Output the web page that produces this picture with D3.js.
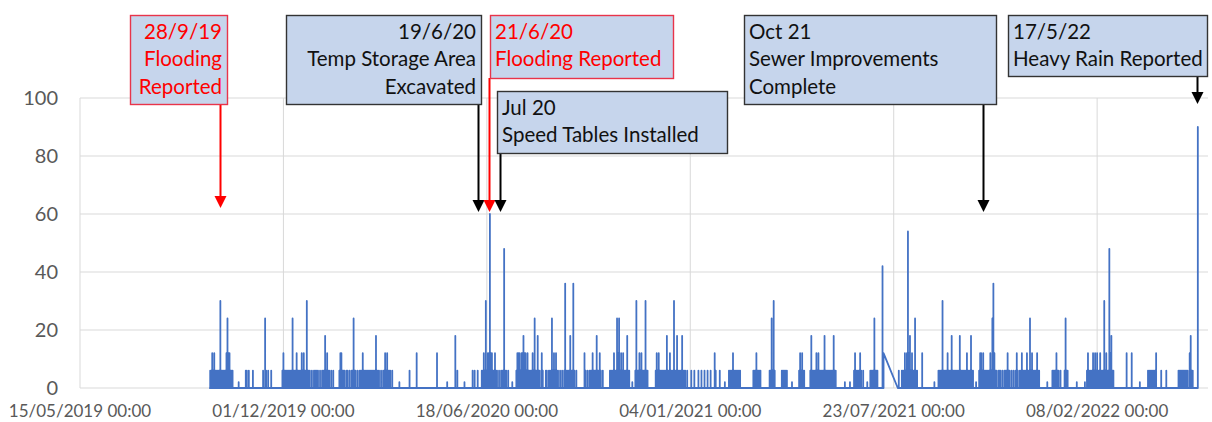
<!DOCTYPE html>
<html>
<head>
<meta charset="utf-8">
<script src="https://cdn.jsdelivr.net/npm/d3@7"></script>
<style>
  body { margin: 0; background: #fff; }
  svg { display: block; font-family: Lato, "Noto Sans", sans-serif; }
</style>
</head>
<body>
<svg id="chart"></svg>
<script>
// axis range and ticks
const startDate = new Date(2019, 4, 15);
const endDate = new Date(2022, 4, 28);
const yTicks = [0, 20, 40, 60, 80, 100];
const xTickDates = ["2019-05-15", "2019-12-01", "2020-06-18", "2021-01-04", "2021-07-23", "2022-02-08"];

// readings: [days since 15/05/2019, value]  ("ramp" = line slides to next reading)
const readings = [
  [127, 0], [128, 6], [129, 6], [130, 12], [131, 6], [132, 12], [133, 6], [134, 6], [135, 6], [136, 6],
  [137, 6], [138, 30], [139, 6], [140, 6], [141, 6], [142, 6], [143, 6], [144, 12], [145, 24], [146, 12],
  [147, 12], [148, 6], [149, 6], [150, 6], [156, 2], [163, 6], [164, 6], [166, 6], [170, 6], [180, 6],
  [182, 24], [183, 6], [185, 6], [188, 6],
  [199, 6], [200, 12], [201, 6], [202, 6], [203, 6], [204, 6], [205, 6], [206, 6], [207, 6], [208, 6],
  [209, 24], [210, 6], [211, 6], [212, 6], [213, 12], [214, 6], [215, 6], [216, 6], [217, 6], [218, 12],
  [219, 6], [220, 12], [221, 6], [222, 6], [223, 30], [224, 6], [225, 6], [226, 6], [228, 6], [230, 6],
  [231, 6], [232, 6], [233, 6], [234, 6], [236, 6], [238, 6], [239, 6], [240, 6], [241, 18], [242, 6],
  [243, 12], [244, 6], [245, 6], [247, 6], [249, 6],
  [255, 6], [256, 12], [257, 12], [258, 6], [259, 6], [260, 6], [262, 6], [263, 6], [265, 6], [267, 6],
  [268, 6], [269, 24], [270, 6], [271, 6], [273, 6], [275, 6], [276, 6], [277, 6], [278, 12], [279, 6],
  [280, 6], [281, 6], [282, 6], [283, 6], [284, 6], [285, 6], [286, 6], [287, 6], [288, 6], [289, 6],
  [290, 6], [291, 18], [292, 6], [293, 6], [294, 6], [296, 6], [298, 6], [299, 6], [300, 12], [301, 6],
  [302, 12], [303, 6], [304, 6], [305, 6], [307, 6],
  [314, 2], [324, 6], [331, 12], [351, 12], [361, 2], [369, 18], [371, 6], [378, 2], [386, 6], [388, 6],
  [391, 6], [395, 6], [396, 6], [397, 12], [398, 6], [399, 30], [400, 6], [401, 12], [402, 12], [403, 60],
  [404, 12], [405, 12], [406, 6], [407, 6], [408, 12], [409, 6], [410, 6], [412, 6], [414, 6], [415, 6],
  [416, 6], [417, 48], [418, 6], [419, 6], [421, 6], [425, 2],
  [429, 6], [430, 12], [431, 12], [432, 12], [433, 6], [434, 12], [435, 12], [436, 18], [437, 12], [438, 12],
  [439, 6], [440, 12], [441, 6], [442, 6], [443, 6], [444, 6], [445, 12], [446, 6], [447, 24], [448, 6],
  [449, 6], [450, 18], [451, 6], [452, 6], [454, 12], [455, 6], [458, 6], [459, 6], [461, 6], [462, 6],
  [463, 6], [464, 24], [465, 6], [466, 12], [467, 6], [468, 12], [469, 6], [470, 6], [472, 6], [474, 6],
  [476, 6], [477, 36], [478, 6], [479, 6], [480, 6], [481, 6], [482, 18], [483, 6], [484, 6], [485, 36],
  [486, 6], [488, 6], [496, 12], [497, 6], [499, 6], [501, 6], [502, 6], [503, 6], [504, 12], [505, 6],
  [506, 6], [507, 6], [508, 18], [509, 6], [510, 6], [511, 12], [512, 6], [514, 6],
  [521, 6], [522, 6], [523, 6], [524, 6], [525, 12], [526, 6], [527, 6], [528, 24], [529, 12], [530, 24],
  [531, 6], [532, 12], [533, 6], [534, 12], [535, 6], [536, 6], [537, 6], [538, 18], [539, 6], [540, 6],
  [543, 2], [546, 6], [547, 30], [548, 6], [549, 6], [550, 12], [551, 6], [552, 12], [553, 6], [554, 6],
  [555, 6], [556, 30], [557, 6], [558, 6], [566, 6], [567, 12], [568, 6], [569, 12], [570, 6], [571, 6],
  [572, 6], [573, 6], [574, 6], [575, 6], [576, 6], [577, 18], [578, 6], [579, 6], [580, 12], [581, 6],
  [582, 6], [583, 6], [584, 30], [585, 6], [586, 6], [587, 18], [588, 6], [589, 6], [590, 6], [591, 6],
  [592, 18], [593, 6], [594, 6], [595, 6], [597, 6], [601, 6], [604, 6], [608, 6], [611, 6], [614, 6],
  [617, 6], [620, 6], [624, 12], [625, 6], [629, 6], [634, 2],
  [638, 6], [639, 6], [640, 6], [641, 6], [642, 12], [643, 6], [644, 6], [645, 6], [646, 6], [647, 6],
  [648, 6], [649, 6], [662, 6], [663, 6], [664, 6], [665, 12], [666, 6], [667, 6], [668, 6], [669, 6],
  [678, 6], [679, 6], [680, 24], [681, 6], [682, 30], [683, 6], [690, 6], [691, 6], [692, 6], [693, 6],
  [694, 6], [695, 6], [700, 2], [707, 6], [708, 12], [709, 6], [710, 12], [711, 6], [712, 6],
  [718, 6], [719, 18], [720, 6], [721, 6], [722, 6], [723, 6], [724, 12], [725, 6], [726, 12], [727, 6],
  [728, 6], [729, 6], [730, 6], [731, 6], [732, 18], [733, 6], [734, 6], [735, 6], [736, 6], [737, 6],
  [738, 6], [739, 6], [740, 6], [741, 18], [742, 6], [743, 6], [752, 2], [757, 2],
  [761, 6], [762, 12], [763, 6], [764, 6], [765, 6], [766, 6], [767, 12], [768, 6], [770, 6], [774, 2],
  [777, 6], [778, 6], [779, 6], [780, 6], [781, 24], [782, 6], [783, 6], [784, 6], [789, 42],
  [790, 12, "ramp"], [804, 0],
  [805, 6], [808, 6], [809, 6], [810, 6], [811, 12], [812, 6], [813, 12], [814, 54], [815, 12], [816, 18],
  [817, 6], [818, 12], [819, 6], [820, 6], [821, 24], [822, 6], [823, 6], [828, 12], [840, 2],
  [844, 6], [845, 6], [846, 6], [847, 6], [848, 30], [849, 6], [850, 6], [851, 6], [852, 6], [853, 12],
  [854, 6], [855, 6], [856, 6], [857, 18], [858, 6], [859, 6], [860, 6], [861, 6], [862, 6], [863, 6],
  [864, 6], [865, 18], [866, 6], [867, 6], [868, 6], [869, 6], [870, 6], [871, 6], [872, 12], [873, 6],
  [874, 6], [875, 6], [876, 18], [877, 6], [878, 6], [881, 2],
  [884, 6], [885, 12], [886, 12], [887, 6], [888, 12], [889, 6], [890, 6], [891, 6], [892, 6], [893, 6],
  [894, 6], [895, 12], [896, 6], [897, 24], [898, 36], [899, 12], [900, 6], [901, 6], [903, 6], [904, 6],
  [905, 6], [907, 6], [909, 6], [910, 6], [911, 6], [912, 12], [913, 6], [914, 6], [916, 6], [918, 6],
  [920, 6], [921, 12], [922, 6], [924, 6], [925, 6], [926, 12], [927, 6], [928, 6], [929, 6], [930, 6],
  [931, 12], [932, 6], [933, 6], [934, 24], [935, 6], [936, 12], [937, 6], [938, 6], [939, 6], [940, 6],
  [941, 12], [942, 6], [943, 6], [951, 2], [956, 6], [957, 6], [958, 6], [959, 6], [960, 12], [961, 6],
  [962, 6], [964, 6], [968, 6], [969, 24], [970, 6], [971, 6], [980, 2], [988, 2],
  [990, 6], [991, 12], [992, 6], [993, 6], [994, 6], [995, 6], [996, 12], [997, 6], [998, 12], [999, 6],
  [1000, 12], [1001, 6], [1002, 6], [1003, 12], [1004, 6], [1005, 6], [1006, 6], [1007, 30], [1008, 6],
  [1009, 12], [1010, 6], [1011, 6], [1012, 48], [1013, 12], [1014, 18], [1015, 6], [1016, 6],
  [1029, 12], [1034, 12], [1042, 2],
  [1050, 6], [1051, 6], [1052, 6], [1053, 6], [1054, 6], [1055, 6], [1056, 6], [1057, 6], [1058, 12],
  [1063, 6], [1068, 6], [1080, 6], [1081, 6], [1082, 6], [1083, 6], [1084, 6], [1085, 6], [1086, 6],
  [1087, 6], [1088, 6], [1089, 6], [1091, 12], [1092, 18], [1093, 6], [1094, 6], [1099, 90]
];

// annotations
const noteLines = [
  ["28/9/19", "Flooding", "Reported"],
  ["19/6/20", "Temp Storage Area", "Excavated"],
  ["21/6/20", "Flooding Reported"],
  ["Jul 20", "Speed Tables Installed"],
  ["Oct 21", "Sewer Improvements", "Complete"],
  ["17/5/22", "Heavy Rain Reported"]
];
const noteDates = ["2019-09-29", "2020-06-19", "2020-06-21", "2020-07-01", "2021-10-19", "2022-05-17"];
const noteKinds = ["flood", "works", "flood", "works", "works", "rain"];

// layout of the boxes: x, y, w, h, text anchor, arrow tip y, arrow dx
const boxLayout = [
  [130, 15, 97, 89, "end", 208, 1],
  [286, 15, 195, 89, "end", 212, -10],
  [490, 15, 183, 63, "start", 212, -1],
  [497, 91, 230, 62, "start", 212, 0],
  [744, 15, 252, 89, "start", 212, 0],
  [1008, 15, 199, 61, "start", 104, 0]
];

const width = 1212, height = 422;
const margin = { left: 80, right: 4, top: 98, bottom: 34 };

const svg = d3.select("#chart").attr("width", width).attr("height", height);

const parse = d3.timeParse("%Y-%m-%d");
const x = d3.scaleTime().domain([startDate, endDate]).range([margin.left, width - margin.right]);
const y = d3.scaleLinear().domain([0, 100]).range([height - margin.bottom, margin.top]);

const gridColor = "#d9d9d9";
const labelColor = "#595959";

// horizontal grid
svg.append("g")
  .selectAll("line")
  .data(yTicks)
  .join("line")
  .attr("x1", x.range()[0]).attr("x2", x.range()[1])
  .attr("y1", d => y(d)).attr("y2", d => y(d))
  .attr("stroke", gridColor).attr("stroke-width", 1);

// vertical grid
const xTicks = xTickDates.map(parse);
svg.append("g")
  .selectAll("line")
  .data(xTicks)
  .join("line")
  .attr("x1", d => x(d)).attr("x2", d => x(d))
  .attr("y1", y(0)).attr("y2", y(100))
  .attr("stroke", gridColor).attr("stroke-width", 1);

// y labels
svg.append("g")
  .selectAll("text")
  .data(yTicks)
  .join("text")
  .attr("x", 58)
  .attr("y", d => y(d))
  .attr("dy", "0.36em")
  .attr("text-anchor", "end")
  .attr("font-size", 20)
  .attr("fill", labelColor)
  .text(d => d);

// x labels
const fmt = d3.timeFormat("%d/%m/%Y %H:%M");
svg.append("g")
  .selectAll("text")
  .data(xTicks)
  .join("text")
  .attr("x", d => x(d))
  .attr("y", 417)
  .attr("text-anchor", "middle")
  .attr("font-size", 17)
  .attr("fill", labelColor)
  .text(d => fmt(d));

// build the line: each reading is a spike up from the baseline and back
const dayDate = n => d3.timeDay.offset(startDate, n);
const pts = [];
readings.forEach(r => {
  const t = dayDate(r[0]);
  pts.push([t, 0]);
  pts.push([t, r[1]]);
  if (r[2] !== "ramp") pts.push([t, 0]);
});

const line = d3.line()
  .x(d => x(d[0]))
  .y(d => y(d[1]));

svg.append("path")
  .datum(pts)
  .attr("d", line)
  .attr("fill", "none")
  .attr("stroke", "#4472C4")
  .attr("stroke-width", 1.8)
  .attr("stroke-linejoin", "round");

// annotation boxes and arrows
const boxFill = "#c6d5ec";
const red = "#ff0000";

noteLines.forEach((lines, i) => {
  const [bx, by, bw, bh, anchor, tipY, dx] = boxLayout[i];
  const kind = noteKinds[i];
  const col = kind === "flood" ? red : "#000";
  const ax = Math.round(x(parse(noteDates[i]))) + dx + 0.5;

  // arrow line + head
  svg.append("line")
    .attr("x1", ax).attr("x2", ax)
    .attr("y1", by + bh).attr("y2", tipY - 10)
    .attr("stroke", col).attr("stroke-width", 2);
  svg.append("path")
    .attr("d", `M${ax - 6},${tipY - 12} L${ax + 6},${tipY - 12} L${ax},${tipY} Z`)
    .attr("fill", col);

  const g = svg.append("g");
  g.append("rect")
    .attr("x", bx + 0.5).attr("y", by + 0.5)
    .attr("width", bw).attr("height", bh)
    .attr("fill", boxFill)
    .attr("stroke", kind === "flood" ? "#e8344a" : "#333")
    .attr("stroke-width", 1.4);

  g.selectAll("text")
    .data(lines)
    .join("text")
    .attr("x", anchor === "end" ? bx + bw - 5 : bx + 5)
    .attr("y", (d, j) => by + 24 + j * 27.3)
    .attr("text-anchor", anchor)
    .attr("font-size", 20.5)
    .attr("fill", kind === "flood" ? red : "#111")
    .text(d => d);
});
</script>
</body>
</html>
